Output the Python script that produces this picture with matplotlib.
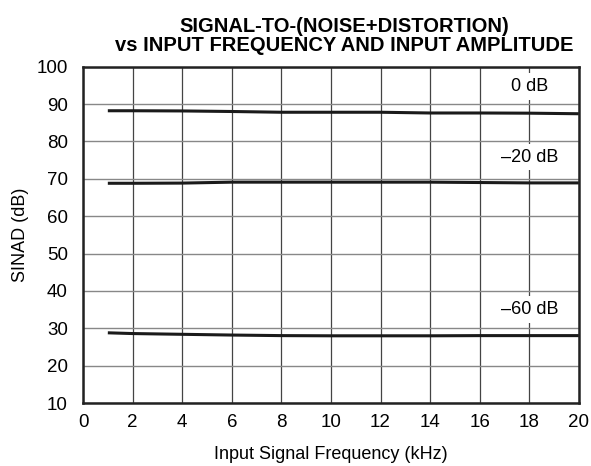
import numpy as np
import matplotlib.pyplot as plt

plt.rcParams['font.family'] = ['Liberation Sans', 'DejaVu Sans']

freq = [1, 2, 4, 6, 8, 10, 12, 14, 16, 18, 20]
sinad_0db = [88.2, 88.2, 88.15, 88.0, 87.8, 87.8, 87.8, 87.6, 87.6, 87.55, 87.4]
sinad_20db = [68.8, 68.8, 68.85, 69.1, 69.1, 69.1, 69.1, 69.1, 69.0, 68.9, 68.9]
sinad_60db = [28.8, 28.6, 28.4, 28.2, 28.05, 28.0, 28.0, 28.0, 28.05, 28.05, 28.05]

labels = ['0 dB', '\u201320 dB', '\u201360 dB']
label_pos = [(18, 94.6), (18, 75.8), (18, 35.0)]

fig = plt.figure(figsize=(5.91, 4.66), dpi=100)
ax = fig.add_axes([0.1405, 0.135, 0.839, 0.722])

for s in [sinad_0db, sinad_20db, sinad_60db]:
    ax.plot(freq, s, color='#1a1a1a', lw=2.2, solid_capstyle='butt', zorder=3)

for txt, (x, y) in zip(labels, label_pos):
    ax.text(x, y, txt, ha='center', va='center', fontsize=13, zorder=4,
            bbox=dict(facecolor='white', edgecolor='none', pad=3.5))

ax.set_xlim(0, 20)
ax.set_ylim(10, 100)
ax.set_xticks(np.arange(0, 21, 2))
ax.set_yticks(np.arange(10, 101, 10))
ax.grid(True, axis='y', color='#888888', lw=1.0, zorder=1)
ax.grid(True, axis='x', color='#444444', lw=0.9, zorder=1)
ax.tick_params(length=0, labelsize=13.5)
ax.tick_params(axis='y', pad=11)
ax.tick_params(axis='x', pad=8)
for sp in ax.spines.values():
    sp.set_linewidth(1.8)
    sp.set_color('#222222')
    sp.set_zorder(5)

ax.set_xlabel('Input Signal Frequency (kHz)', fontsize=13, labelpad=11)
ax.set_ylabel('SINAD (dB)', fontsize=13, labelpad=5)
fig.text(0.583, 0.923, 'SIGNAL-TO-(NOISE+DISTORTION)\nvs INPUT FREQUENCY AND INPUT AMPLITUDE',
         ha='center', va='center', fontsize=14.5, fontweight='bold', linespacing=0.95)

fig.savefig('out.png', dpi=100)
